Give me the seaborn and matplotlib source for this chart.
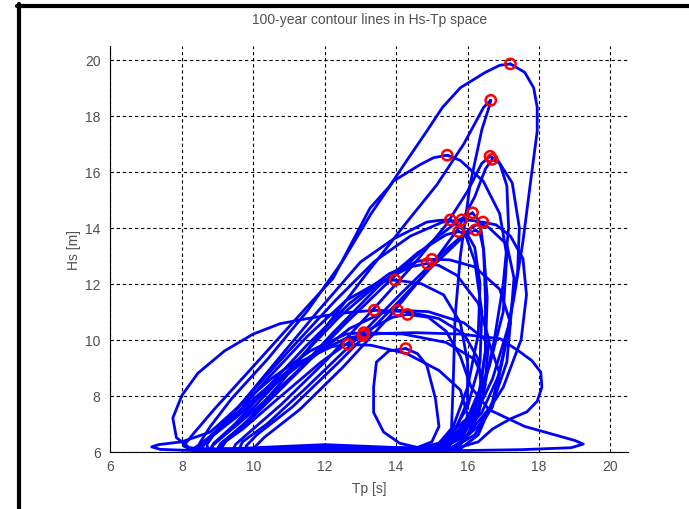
import numpy as np
import pandas as pd
import matplotlib
matplotlib.use("Agg")
import matplotlib.pyplot as plt
import seaborn as sns
from matplotlib.lines import Line2D

# each contour: (Tp, Hs) points, starting at the red-circled peak,
# going down the left side, along the bottom and back up the right side
c01 = [(17.2, 19.85), (16.9, 19.8), (16.5, 19.55), (15.8, 19.0), (15.3, 18.3), (14.86, 17.45),
       (14.3, 16.4), (13.83, 15.5), (13.27, 14.7), (12.24, 12.2), (11.1, 10.6), (9.9, 8.9),
       (8.9, 7.5), (8.3, 6.6), (8.05, 6.2), (8.3, 6.05), (11.0, 6.03), (14.0, 6.04), (15.8, 6.1),
       (16.3, 6.6), (16.7, 7.8), (17.0, 9.5), (17.3, 11.5), (17.55, 13.5), (17.75, 15.5),
       (17.95, 17.45), (17.95, 18.3), (17.85, 19.0), (17.6, 19.55)]
c02 = [(16.65, 18.55), (16.45, 18.3), (15.9, 17.0), (15.14, 15.53), (14.3, 14.2), (13.2, 12.4),
       (12.0, 10.4), (10.8, 8.5), (9.7, 6.9), (9.1, 6.3), (9.0, 6.1), (11.0, 6.04), (14.5, 6.05),
       (15.3, 6.15), (15.55, 6.8), (15.6, 8.5), (15.65, 10.8), (15.8, 13.0), (16.07, 15.53),
       (16.4, 17.5), (16.6, 18.3)]
c03 = [(15.43, 16.59), (15.05, 16.5), (14.67, 16.25), (13.92, 15.66), (13.3, 14.5), (12.5, 12.8),
       (11.5, 11.0), (10.4, 9.3), (9.4, 7.9), (8.8, 6.9), (8.5, 6.3), (8.5, 6.08), (10.0, 6.04),
       (14.3, 6.05), (15.2, 6.3), (16.0, 7.2), (16.6, 9.0), (17.0, 11.0), (17.1, 13.0),
       (16.9, 14.5), (16.44, 15.66), (15.8, 16.4)]
c04 = [(16.63, 16.55), (16.4, 16.3), (16.0, 15.3), (15.4, 14.1), (14.5, 12.7), (13.3, 11.0),
       (12.0, 9.2), (10.8, 7.7), (9.9, 6.7), (9.5, 6.25), (9.45, 6.08), (12.0, 6.05), (15.4, 6.15),
       (16.1, 7.0), (16.7, 8.6), (17.15, 10.5), (17.4, 12.4), (17.45, 14.0), (17.25, 15.6),
       (16.85, 16.4)]
c05 = [(16.69, 16.44), (16.5, 16.1), (16.2, 15.1), (15.7, 13.9), (14.9, 12.5), (13.8, 10.8),
       (12.5, 9.0), (11.3, 7.5), (10.3, 6.5), (10.0, 6.1), (13.0, 6.06), (15.7, 6.1), (16.15, 6.8),
       (16.45, 8.2), (16.75, 10.0), (17.0, 12.0), (17.15, 14.0), (17.1, 15.5), (16.9, 16.3)]
c06 = [(15.52, 14.28), (15.2, 14.26), (14.86, 14.2), (13.93, 13.6), (13.0, 12.77), (11.8, 11.0),
       (10.5, 9.0), (9.4, 7.3), (8.7, 6.4), (8.55, 6.1), (11.5, 6.04), (15.1, 6.08), (15.5, 6.5),
       (16.0, 7.6), (16.35, 9.2), (16.4, 11.0), (16.2, 12.8), (15.9, 13.9)]
c07 = [(15.84, 14.28), (15.3, 14.2), (14.4, 13.7), (13.4, 12.8), (12.3, 11.4), (11.0, 9.6),
       (9.8, 7.9), (9.0, 6.8), (8.7, 6.25), (8.75, 6.07), (12.0, 6.05), (15.0, 6.06), (15.7, 6.4),
       (16.4, 7.4), (16.9, 8.8), (17.2, 10.6), (17.3, 12.2), (17.1, 13.4), (16.6, 14.0),
       (16.2, 14.25)]
c08 = [(16.14, 14.53), (15.8, 14.3), (15.0, 13.5), (13.9, 12.2), (12.6, 10.6), (11.3, 8.9),
       (10.1, 7.4), (9.3, 6.5), (9.1, 6.1), (12.5, 6.06), (15.3, 6.1), (15.9, 6.6), (16.3, 7.8),
       (16.5, 9.5), (16.5, 11.5), (16.45, 13.2), (16.35, 14.2)]
c09 = [(16.43, 14.2), (16.1, 14.0), (15.3, 13.1), (14.1, 11.6), (12.8, 9.9), (11.5, 8.3),
       (10.4, 7.0), (9.7, 6.35), (9.6, 6.08), (13.0, 6.07), (15.6, 6.15), (16.3, 6.9), (17.0, 8.3),
       (17.5, 10.0), (17.65, 11.6), (17.55, 12.9), (17.2, 13.7), (16.8, 14.1)]
c10 = [(16.22, 13.92), (15.9, 13.7), (15.0, 12.6), (13.8, 11.0), (12.4, 9.2), (11.1, 7.6),
       (10.1, 6.6), (9.8, 6.2), (9.85, 6.06), (13.0, 6.08), (15.4, 6.12), (15.9, 6.7), (16.3, 7.9),
       (16.5, 9.6), (16.55, 11.5), (16.45, 13.2), (16.35, 13.8)]
c11 = [(15.75, 13.86), (15.4, 13.75), (14.6, 13.1), (13.5, 11.9), (12.2, 10.2), (10.9, 8.4),
       (9.8, 7.0), (9.1, 6.3), (9.0, 6.07), (12.0, 6.1), (15.1, 6.15), (15.6, 6.9), (16.0, 8.3),
       (16.3, 10.2), (16.35, 12.0), (16.2, 13.3), (16.0, 13.75)]
c12 = [(14.87, 12.72), (14.4, 12.6), (13.5, 12.0), (12.4, 10.8), (11.2, 9.2), (10.1, 7.7),
       (9.3, 6.7), (8.85, 6.2), (8.9, 6.06), (12.0, 6.12), (14.9, 6.08), (15.5, 6.4), (16.1, 7.3),
       (16.5, 8.6), (16.6, 10.0), (16.3, 11.3), (15.7, 12.3), (15.2, 12.65)]
c13 = [(15.0, 12.87), (14.6, 12.8), (13.8, 12.35), (12.7, 11.3), (11.5, 9.8), (10.4, 8.3),
       (9.5, 7.0), (8.9, 6.3), (8.8, 6.07), (12.0, 6.15), (15.2, 6.08), (16.0, 6.6), (16.7, 7.7),
       (17.1, 9.2), (17.2, 10.6), (16.9, 11.8), (16.2, 12.6), (15.5, 12.85)]
c14 = [(13.97, 12.13), (13.5, 12.05), (12.6, 11.4), (11.5, 10.1), (10.4, 8.6), (9.5, 7.3),
       (8.8, 6.5), (8.45, 6.15), (8.6, 6.05), (12.0, 6.18), (15.0, 6.1), (15.6, 6.6), (16.0, 7.8),
       (16.0, 9.2), (15.8, 10.6), (15.33, 11.6), (14.7, 12.0)]
c15 = [(13.39, 11.05), (12.5, 10.95), (11.5, 10.75), (10.75, 10.57), (10.0, 10.2), (9.2, 9.6),
       (8.45, 8.8), (8.0, 8.0), (7.75, 7.2), (7.85, 6.5), (8.2, 6.15), (8.7, 6.05), (12.0, 6.2),
       (14.8, 6.07), (15.5, 6.35), (16.1, 7.1), (16.4, 8.2), (16.3, 9.3), (15.9, 10.2),
       (15.2, 10.75), (14.3, 11.0)]
c16 = [(14.04, 11.05), (13.6, 10.95), (12.7, 10.4), (11.6, 9.3), (10.5, 8.0), (9.5, 6.9),
       (8.9, 6.3), (8.8, 6.07), (12.0, 6.25), (15.5, 6.07), (16.2, 6.6), (16.7, 7.6), (16.9, 8.8),
       (16.6, 9.9), (15.9, 10.6), (14.9, 11.0)]
c17 = [(14.32, 10.9), (13.9, 10.8), (13.0, 10.2), (11.9, 9.2), (10.7, 7.9), (9.7, 6.8),
       (9.1, 6.25), (9.0, 6.07), (12.5, 6.03), (16.0, 6.04), (17.5, 6.07), (18.9, 6.14),
       (19.24, 6.27), (19.0, 6.4), (17.6, 6.9), (16.6, 7.5), (16.1, 8.3), (15.8, 9.4),
       (15.4, 10.3), (14.9, 10.8)]
c18 = [(13.07, 10.15), (12.6, 10.05), (11.6, 9.4), (10.5, 8.3), (9.5, 7.2), (8.7, 6.4),
       (8.35, 6.1), (11.5, 6.03), (15.5, 6.05), (16.3, 6.35), (16.7, 6.81), (17.2, 7.17),
       (17.66, 7.42), (17.95, 7.8), (18.08, 8.3), (18.05, 8.84), (17.8, 9.25), (17.47, 9.56),
       (16.92, 10.03), (15.8, 10.2), (14.5, 10.25), (13.6, 10.22)]
c19 = [(13.1, 10.25), (12.6, 10.2), (11.6, 9.6), (10.5, 8.6), (9.5, 7.5), (8.8, 6.7), (8.0, 6.35),
       (7.35, 6.25), (7.16, 6.17), (7.4, 6.08), (8.5, 6.03), (12.0, 6.02), (15.4, 6.05), (15.9, 6.4),
       (16.3, 7.3), (16.5, 8.4), (16.2, 9.3), (15.4, 9.9), (14.2, 10.2)]
c20 = [(12.65, 9.83), (12.2, 9.75), (11.3, 9.2), (10.3, 8.2), (9.4, 7.2), (8.7, 6.45),
       (8.35, 6.12), (8.6, 6.04), (12.0, 6.1), (15.2, 6.06), (15.8, 6.5), (16.0, 7.3), (15.8, 8.2),
       (15.2, 8.9), (14.3, 9.5), (13.3, 9.8)]
c21 = [(14.27, 9.68), (13.8, 9.6), (13.45, 9.2), (13.37, 8.3), (13.37, 7.4), (13.65, 6.7),
       (14.1, 6.3), (14.6, 6.15), (15.0, 6.35), (15.2, 6.9), (15.1, 7.9), (14.86, 9.08), (14.6, 9.5)]

contours = [c01, c02, c03, c04, c05, c06, c07, c08, c09, c10, c11,
            c12, c13, c14, c15, c16, c17, c18, c19, c20, c21]

x_ticks = [6, 8, 10, 12, 14, 16, 18, 20]
y_ticks = [6, 8, 10, 12, 14, 16, 18, 20]

rows = []
for k, pts in enumerate(contours):
    closed = pts + pts[:1]
    for i, (tp, hs) in enumerate(closed):
        rows.append({"contour": k, "step": i, "Tp": tp, "Hs": hs})
df = pd.DataFrame(rows)
peaks = pd.DataFrame([c[0] for c in contours], columns=["Tp", "Hs"])

sns.set_style("white")
plt.rcParams["font.family"] = ["Liberation Sans", "DejaVu Sans"]
txt = "#505050"

fig = plt.figure(figsize=(6.89, 5.10), dpi=100)
ax = fig.add_axes([0.1601, 0.1125, 0.7518, 0.7959])

sns.lineplot(data=df, x="Tp", y="Hs", units="contour", estimator=None, sort=False,
             color="#0000ff", lw=2.0, ax=ax, legend=False,
             solid_joinstyle="round", solid_capstyle="round")
sns.scatterplot(data=peaks, x="Tp", y="Hs", marker="o", s=55, facecolor="none",
                edgecolor="#ff0000", linewidth=1.8, zorder=5, ax=ax, legend=False)

ax.set_xlim(6, 20.5)
ax.set_ylim(6, 20.5)
ax.set_xticks(x_ticks)
ax.set_yticks(y_ticks)
ax.set_axisbelow(True)
ax.grid(True, color="black", linestyle=(0, (3, 2.5)), linewidth=0.8)
for s in ["top", "right"]:
    ax.spines[s].set_visible(False)
for s in ["left", "bottom"]:
    ax.spines[s].set_color("black")
    ax.spines[s].set_linewidth(0.8)
ax.tick_params(direction="in", length=4, width=0.8, color="black", labelcolor=txt, labelsize=10)
ax.tick_params(axis="x", pad=5)
ax.tick_params(axis="y", pad=7)

ax.set_title("100-year contour lines in Hs-Tp space", fontsize=10, color=txt, pad=16)
ax.set_xlabel("Tp [s]", fontsize=10, color=txt, labelpad=6)
ax.set_ylabel("Hs [m]", fontsize=10, color=txt, labelpad=3)

# figure frame (black border at left and top)
fig.add_artist(Line2D([19 / 689, 19 / 689], [0, 1 - 5 / 510], color="black", lw=3,
                      transform=fig.transFigure))
fig.add_artist(Line2D([17 / 689, 1], [1 - 7 / 510, 1 - 7 / 510], color="black", lw=3,
                      transform=fig.transFigure))

fig.savefig("out.png", dpi=100)
